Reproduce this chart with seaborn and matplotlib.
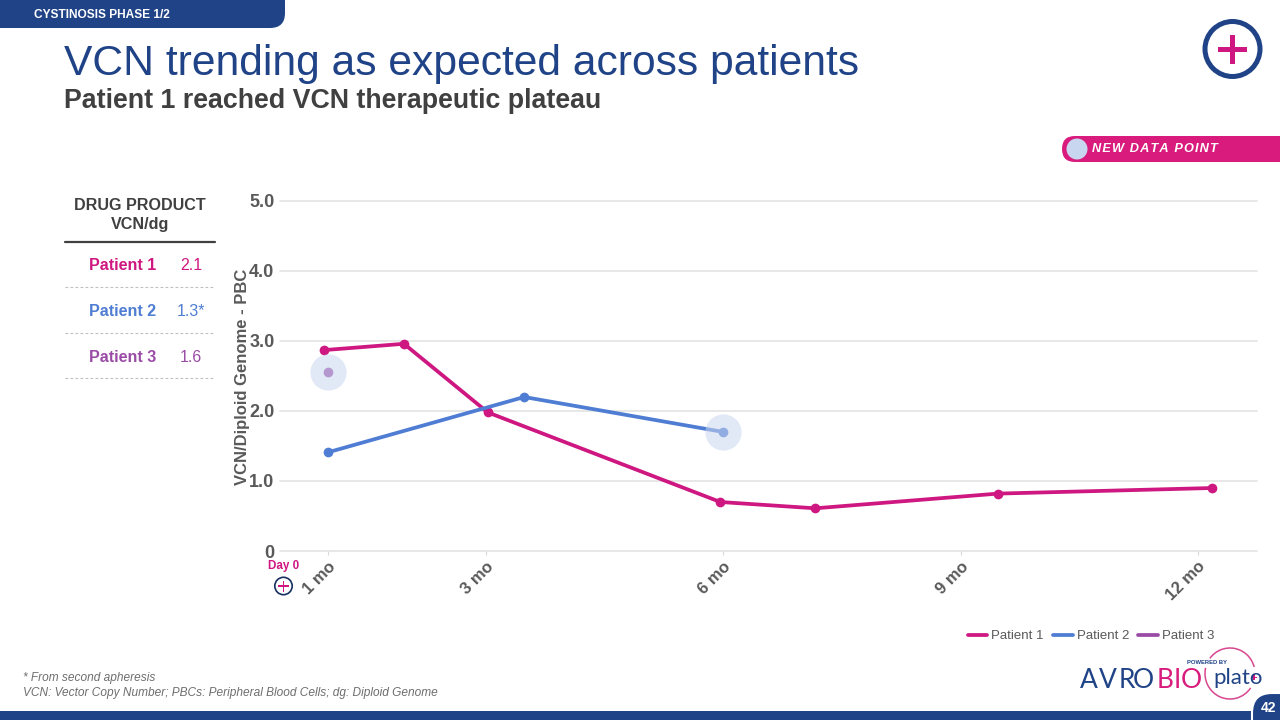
import pandas as pd
import seaborn as sns
import matplotlib.pyplot as plt
from matplotlib.patches import Circle, FancyBboxPatch, Rectangle, Arc

# values
p1_months = [0.95, 1.96, 3.02, 5.96, 7.16, 9.47, 12.18]
p1_vcn = [2.87, 2.96, 1.98, 0.70, 0.61, 0.82, 0.90]
p2_months = [1.0, 3.48, 6.0]
p2_vcn = [1.41, 2.20, 1.70]
p3_months = [1.0]
p3_vcn = [2.55]
new_months = [1.0, 6.0]
new_vcn = [2.55, 1.70]

tick_months = [1, 3, 6, 9, 12]
tick_labels = ['1 mo', '3 mo', '6 mo', '9 mo', '12 mo']
y_ticks = [0, 1, 2, 3, 4, 5]
y_labels = ['0', '1.0', '2.0', '3.0', '4.0', '5.0']

table_names = ['Patient 1', 'Patient 2', 'Patient 3']
table_values = ['2.1', '1.3*', '1.6']

PINK = '#CE1780'
BLUE = '#4F7DD3'
PURPLE = '#9A4BA6'
NAVY = '#1F4386'
GREY = '#595959'
DARK = '#404040'

sns.set_theme(style='white')
plt.rcParams['font.family'] = ['Liberation Sans', 'DejaVu Sans']

df = pd.concat([
    pd.DataFrame({'month': p1_months, 'vcn': p1_vcn, 'patient': 'Patient 1'}),
    pd.DataFrame({'month': p2_months, 'vcn': p2_vcn, 'patient': 'Patient 2'}),
    pd.DataFrame({'month': p3_months, 'vcn': p3_vcn, 'patient': 'Patient 3'}),
])
palette = {'Patient 1': PINK, 'Patient 2': BLUE, 'Patient 3': PURPLE}

fig = plt.figure(figsize=(12.8, 7.2), dpi=100)
W, H = 1280, 720

# overlay in slide pixels for the slide furniture
bg = fig.add_axes([0, 0, 1, 1], zorder=0)
bg.set_xlim(0, W)
bg.set_ylim(H, 0)
bg.axis('off')

ax = fig.add_axes([280 / W, 1 - 551 / H, (1257 - 280) / W, 350 / H], zorder=1)
ax.patch.set_alpha(0)
sns.lineplot(data=df, x='month', y='vcn', hue='patient', palette=palette, marker='o',
             markersize=7, markeredgewidth=0, linewidth=2.7, sort=False,
             estimator=None, ax=ax, zorder=3)
sns.scatterplot(x=new_months, y=new_vcn, s=680, color='#C9D6F0', alpha=0.55,
                linewidth=0, ax=ax, zorder=4, legend=False)

ax.set_xlim(0.393, 12.745)
ax.set_ylim(0, 5)
ax.set_xticks(tick_months)
ax.set_xticklabels([])
# rotated month labels sit right of the tick, as on the slide
for m, lab in zip(tick_months, tick_labels):
    ax.annotate(lab, (m, 0), xycoords=ax.get_xaxis_transform(), xytext=(7.5, -5.5),
                textcoords='offset points', rotation=45, ha='right', va='top',
                fontsize=12, fontweight='bold', color=GREY)
ax.set_yticks(y_ticks)
ax.set_yticklabels(y_labels, fontsize=13, fontweight='bold', color=GREY)
ax.tick_params(axis='x', length=3, width=0.8, color='#D9D9D9', pad=3, bottom=True)
ax.tick_params(axis='y', length=0, pad=4)
ax.grid(axis='y', color='#E3E3E3', linewidth=1.2)
for g in ax.get_ygridlines():
    g.set_clip_on(False)
ax.set_axisbelow(True)
sns.despine(ax=ax, left=True, top=True, right=True, bottom=True)
ax.set_xlabel('')
ax.set_ylabel('')

handles, labels = ax.get_legend_handles_labels()
for h in handles:
    h.set_marker('')
leg = ax.legend(handles[:3], labels[:3], loc='center', bbox_to_anchor=(1091 / W, 1 - 636 / H),
                bbox_transform=fig.transFigure, ncol=3, frameon=False, fontsize=9.5,
                handlelength=1.5, handletextpad=0.3, columnspacing=0.7, labelcolor=GREY)

# header
bg.add_patch(FancyBboxPatch((-30, -20), 315, 48, boxstyle='round,pad=0,rounding_size=15',
                            fc=NAVY, ec='none'))
bg.text(34, 15, 'CYSTINOSIS PHASE 1/2', color='white', fontsize=8.6, fontweight='bold', va='center')
bg.text(64, 63.5, 'VCN trending as expected across patients', color=NAVY, fontsize=30.7, va='center')
bg.text(64, 101, 'Patient 1 reached VCN therapeutic plateau', color=DARK, fontsize=19.3,
        fontweight='bold', va='center')

# plus icon top right
bg.add_patch(Circle((1232.5, 49), 27.5, fc='white', ec=NAVY, lw=3.6))
bg.add_patch(Rectangle((1218, 46.5), 29, 5, fc=PINK, ec='none'))
bg.add_patch(Rectangle((1230, 35), 5, 29, fc=PINK, ec='none'))

# new data point tag
bg.add_patch(FancyBboxPatch((1062, 136), 260, 26, boxstyle='round,pad=0,rounding_size=13',
                            fc='#D81B7C', ec='none'))
bg.add_patch(Circle((1077, 149), 10.5, fc='#C9D6F0', ec='none'))
bg.text(1092, 149, '\u200a'.join('NEW DATA POINT'), color='white', fontsize=9.2, fontweight='bold',
        fontstyle='italic', va='center')

# drug product table
bg.text(140, 205, 'DRUG PRODUCT', color=DARK, fontsize=11.6, fontweight='bold', ha='center', va='center')
bg.text(140, 225, 'VCN/dg', color=DARK, fontsize=11.6, fontweight='bold', ha='center', va='center')
bg.plot([65, 215], [241.5, 241.5], color=DARK, lw=1.6)
row_y = [265, 311, 357]
rule_y = [287, 332.5, 378]
row_colors = [PINK, BLUE, PURPLE]
for name, value, y, ry, c in zip(table_names, table_values, row_y, rule_y, row_colors):
    bg.text(156, y, name, color=c, fontsize=11.5, fontweight='bold', ha='right', va='center')
    bg.text(191, y, value, color=c, fontsize=11.5, ha='center', va='center')
    bg.plot([65, 215], [ry, ry], color='#BFBFBF', lw=0.8, ls=(0, (2.5, 2)))

bg.text(242, 377, 'VCN/Diploid Genome - PBC', color=GREY, fontsize=12, fontweight='bold',
        rotation=90, ha='center', va='center')

# day 0 marker
bg.text(283.5, 566.5, 'Day 0', color=PINK, fontsize=8.4, fontweight='bold', ha='center', va='center')
bg.add_patch(Circle((283.5, 586), 8.7, fc='white', ec='#17305F', lw=1.2))
bg.add_patch(Rectangle((278, 585.4), 11, 1.3, fc=PINK, ec='none'))
bg.add_patch(Rectangle((282.9, 580.5), 1.3, 11, fc=PINK, ec='none'))

# footnotes
bg.text(23, 678, '* From second apheresis', color='#6E6E6E', fontsize=8.6, fontstyle='italic', va='center')
bg.text(23, 693, 'VCN: Vector Copy Number; PBCs: Peripheral Blood Cells; dg: Diploid Genome',
        color='#6E6E6E', fontsize=8.6, fontstyle='italic', va='center')

# logo
logo_font = ['Lato', 'DejaVu Sans']
logo_letters = ['A', 'V', 'R', 'O', 'B', 'I', 'O']
logo_x = [1080, 1099, 1119, 1133, 1157, 1174, 1181]
logo_colors = [NAVY] * 4 + ['#D81B7C'] * 3
for ch, x, c in zip(logo_letters, logo_x, logo_colors):
    bg.text(x, 680, ch, color=c, fontsize=19, family=logo_font, va='center')
bg.add_patch(Arc((1230, 673.5), 50, 51, theta1=35, theta2=193, color='#D8478F', lw=1.1))
bg.add_patch(Arc((1230, 673.5), 50, 51, theta1=217, theta2=345, color='#D8478F', lw=1.1))
bg.text(1207, 662.5, 'POWERED BY', color=NAVY, fontsize=4.2, fontweight='bold', ha='center', va='center')
bg.text(1213, 678, 'plato', color=NAVY, fontsize=16, family=logo_font, va='center')
bg.add_patch(Rectangle((1251, 676.5), 6, 1.2, fc=PINK, ec='none'))
bg.add_patch(Rectangle((1253.4, 674), 1.2, 6, fc=PINK, ec='none'))

# footer bar and page tab
bg.add_patch(Rectangle((0, 711), W, 9, fc=NAVY, ec='none'))
bg.add_patch(FancyBboxPatch((1252, 693), 60, 60, boxstyle='round,pad=0,rounding_size=20',
                            fc=NAVY, ec='white', lw=1.5, zorder=4))
bg.text(1268, 708, '42', color='white', fontsize=10, fontweight='bold', ha='center', va='center', zorder=5)

fig.savefig('out.png', dpi=100)
